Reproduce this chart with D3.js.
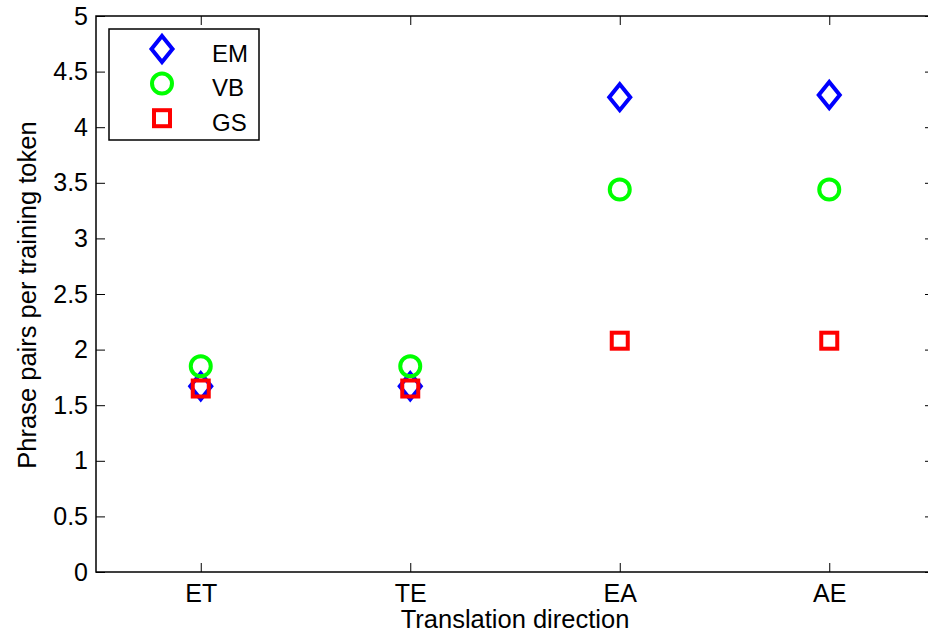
<!DOCTYPE html>
<html>
<head>
<meta charset="utf-8">
<script src="https://cdn.jsdelivr.net/npm/d3@7"></script>
<style>
  body { margin: 0; background: #fff; }
  svg { display: block; font-family: "Liberation Sans", Arial, sans-serif; }
</style>
</head>
<body>
<svg id="chart" width="928" height="639"></svg>
<script>
const directions = ['ET', 'TE', 'EA', 'AE'];
const emValues = [1.67, 1.67, 4.27, 4.29];
const vbValues = [1.85, 1.85, 3.44, 3.44];
const gsValues = [1.65, 1.65, 2.08, 2.08];
const yTicks = [0, 0.5, 1, 1.5, 2, 2.5, 3, 3.5, 4, 4.5, 5];

const seriesList = [
  { name: 'EM', values: emValues, color: '#0000ff', shape: 'diamond' },
  { name: 'VB', values: vbValues, color: '#00ff00', shape: 'circle' },
  { name: 'GS', values: gsValues, color: '#ff0000', shape: 'square' }
];

const svg = d3.select('#chart');
const plotLeft = 96, plotTop = 16, plotRight = 934, plotBottom = 572;

const x = d3.scaleLinear().domain([0.5, directions.length + 0.5]).range([plotLeft, plotRight]);
const y = d3.scaleLinear().domain([0, 5]).range([plotBottom, plotTop]);

// axes, MATLAB style: ticks pointing inward on all four sides
const tickLen = 9;
const xAxis = d3.axisBottom(x)
  .tickValues(directions.map((d, i) => i + 1))
  .tickFormat((d, i) => directions[i])
  .tickSizeInner(-tickLen).tickSizeOuter(0).tickPadding(12);
const yAxis = d3.axisLeft(y)
  .tickValues(yTicks)
  .tickFormat(d3.format('~g'))
  .tickSizeInner(-tickLen).tickSizeOuter(0).tickPadding(8);

svg.append('g').attr('transform', `translate(0,${plotBottom})`).call(xAxis);
svg.append('g').attr('transform', `translate(${plotLeft},0)`).call(yAxis);
svg.append('g').attr('transform', `translate(0,${plotTop})`)
  .call(d3.axisTop(x).tickValues([1, 2, 3, 4]).tickFormat('').tickSizeInner(-tickLen).tickSizeOuter(0));
svg.append('g').attr('transform', `translate(${plotRight},0)`)
  .call(d3.axisRight(y).tickValues(yTicks).tickFormat('').tickSizeInner(-tickLen).tickSizeOuter(0));

svg.selectAll('.domain').remove();
svg.selectAll('.tick line').attr('stroke', '#000').attr('stroke-width', 1);
svg.selectAll('.tick text').attr('font-size', 25).attr('fill', '#000')
  .attr('font-family', '"Liberation Sans", Arial, sans-serif');

svg.append('rect')
  .attr('x', plotLeft).attr('y', plotTop)
  .attr('width', plotRight - plotLeft).attr('height', plotBottom - plotTop)
  .attr('fill', 'none').attr('stroke', '#000').attr('stroke-width', 1.5);

// axis titles
svg.append('text')
  .attr('x', (plotLeft + plotRight) / 2).attr('y', 628)
  .attr('text-anchor', 'middle').attr('font-size', 25.5)
  .text('Translation direction');
svg.append('text')
  .attr('transform', `translate(36,${(plotTop + plotBottom) / 2 + 1}) rotate(-90)`)
  .attr('text-anchor', 'middle').attr('font-size', 25.5)
  .text('Phrase pairs per training token');

function drawMarker(g, shape, cx, cy, color) {
  const sw = 4;
  if (shape === 'diamond') {
    g.append('path')
      .attr('d', `M${cx},${cy - 13} L${cx + 10.5},${cy} L${cx},${cy + 13} L${cx - 10.5},${cy} Z`)
      .attr('fill', 'none').attr('stroke', color).attr('stroke-width', sw);
  } else if (shape === 'circle') {
    g.append('circle').attr('cx', cx).attr('cy', cy).attr('r', 10)
      .attr('fill', 'none').attr('stroke', color).attr('stroke-width', sw);
  } else {
    g.append('rect').attr('x', cx - 8).attr('y', cy - 8).attr('width', 16).attr('height', 16)
      .attr('fill', 'none').attr('stroke', color).attr('stroke-width', sw);
  }
}

const marks = svg.append('g');
seriesList.forEach(s => {
  s.values.forEach((v, i) => drawMarker(marks, s.shape, x(i + 1), y(v), s.color));
});

// legend
const legend = svg.append('g');
legend.append('rect')
  .attr('x', 109).attr('y', 29).attr('width', 150).attr('height', 111)
  .attr('fill', '#fff').attr('stroke', '#000').attr('stroke-width', 1.5);
seriesList.forEach((s, i) => {
  const ly = 49 + i * 34.6;
  drawMarker(legend, s.shape, 162, ly, s.color);
  legend.append('text')
    .attr('x', 212).attr('y', ly + 12.5)
    .attr('font-size', 24)
    .text(s.name);
});
</script>
</body>
</html>
